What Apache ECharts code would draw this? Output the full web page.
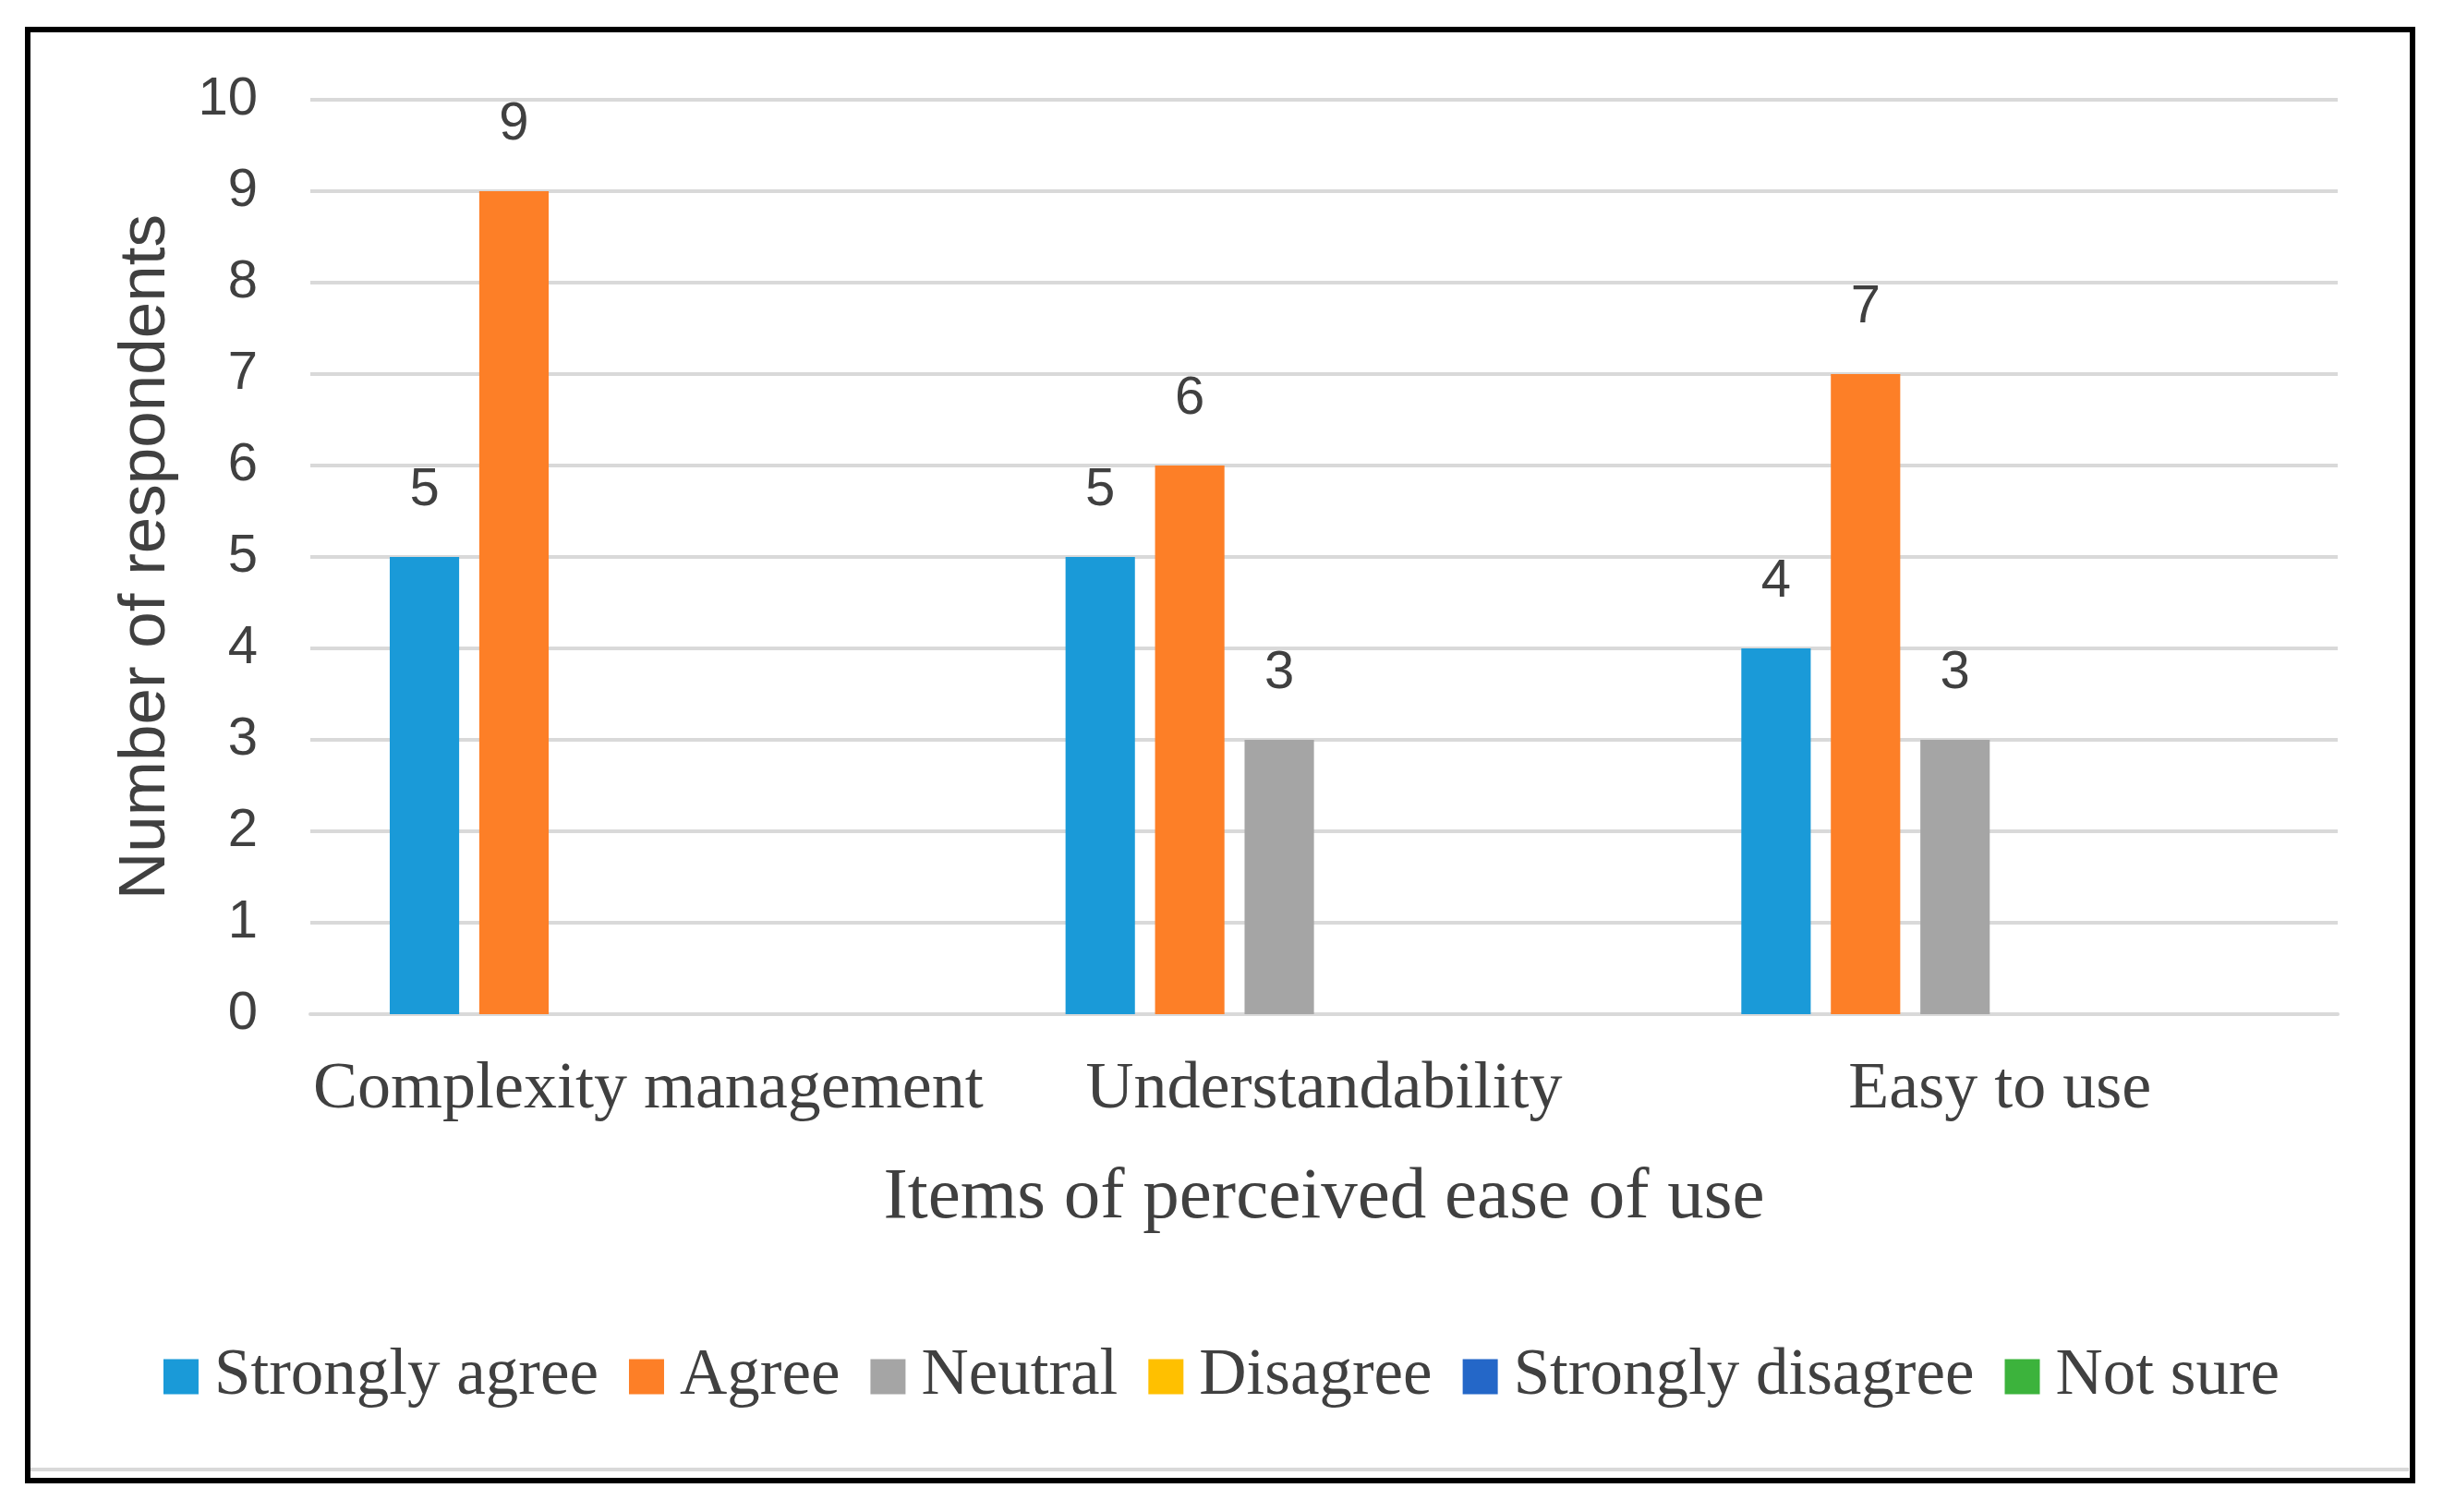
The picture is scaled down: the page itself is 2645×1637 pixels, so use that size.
<!DOCTYPE html>
<html>
<head>
<meta charset="utf-8">
<script src="https://cdn.jsdelivr.net/npm/echarts@6/dist/echarts.min.js"></script>
<style>
html,body{margin:0;padding:0;background:#fff;}
#chart{width:2645px;height:1637px;}
</style>
</head>
<body>
<div id="chart"></div>
<script>
const categories = ['Complexity management', 'Understandability', 'Easy to use'];
const seriesNames = ['Strongly agree', 'Agree', 'Neutral', 'Disagree', 'Strongly disagree', 'Not sure'];
const stronglyAgree = [5, 5, 4];
const agree = [9, 6, 7];
const neutral = [0, 3, 3];
const disagree = [0, 0, 0];
const stronglyDisagree = [0, 0, 0];
const notSure = [0, 0, 0];
const yTicks = [0, 1, 2, 3, 4, 5, 6, 7, 8, 9, 10];
const colors = ['#1a9ad8', '#fd7f27', '#a5a5a5', '#ffc000', '#2467c8', '#3cb33c'];

const seriesData = [stronglyAgree, agree, neutral, disagree, stronglyDisagree, notSure];

const chart = echarts.init(document.getElementById('chart'), null, {renderer: 'canvas'});

const option = {
  backgroundColor: '#ffffff',
  animation: false,
  color: colors,
  grid: {left: 336, right: 114, top: 108, bottom: 539, containLabel: false},
  legend: {
    data: seriesNames,
    left: 'center',
    top: 1450,
    itemWidth: 38,
    itemHeight: 38,
    itemGap: 33,
    icon: 'rect',
    textStyle: {fontFamily: 'Liberation Serif', fontSize: 71, color: '#404040', padding: [0, 0, 0, 12]}
  },
  xAxis: {
    type: 'category',
    data: categories,
    axisLine: {show: true, lineStyle: {color: '#d9d9d9', width: 4}},
    axisTick: {show: false},
    axisLabel: {fontFamily: 'Liberation Serif', fontSize: 72, color: '#404040', margin: 46, interval: 0},
    name: 'Items of perceived ease of use',
    nameLocation: 'middle',
    nameGap: 160,
    nameTextStyle: {fontFamily: 'Liberation Serif', fontSize: 79, color: '#404040'}
  },
  yAxis: {
    type: 'value',
    min: yTicks[0],
    max: yTicks[yTicks.length - 1],
    interval: 1,
    axisLine: {show: false},
    axisTick: {show: false},
    splitLine: {show: true, lineStyle: {color: '#d9d9d9', width: 4}},
    axisLabel: {fontFamily: 'Liberation Sans', fontSize: 58, color: '#404040', margin: 57},
    name: 'Number of respondents',
    nameLocation: 'middle',
    nameGap: 142,
    nameRotate: 90,
    nameTextStyle: {fontFamily: 'Liberation Sans', fontSize: 71, color: '#404040'}
  },
  series: seriesNames.map((name, i) => ({
    name: name,
    type: 'bar',
    data: seriesData[i],
    barGap: '29%',
    barCategoryGap: '23.5%',
    itemStyle: {color: colors[i]},
    label: {
      show: true,
      position: 'top',
      distance: 43,
      fontFamily: 'Liberation Sans',
      fontSize: 58,
      color: '#404040',
      formatter: p => (p.value === 0 ? '' : String(p.value))
    }
  })),
  graphic: [
    {
      type: 'line',
      shape: {x1: 33, y1: 1591, x2: 2608, y2: 1591},
      style: {stroke: '#d9d9d9', lineWidth: 4},
      silent: true
    },
    {
      type: 'rect',
      shape: {x: 30, y: 32, width: 2582, height: 1571},
      style: {fill: null, stroke: '#000000', lineWidth: 6},
      silent: true
    }
  ]
};

chart.setOption(option);
</script>
</body>
</html>
